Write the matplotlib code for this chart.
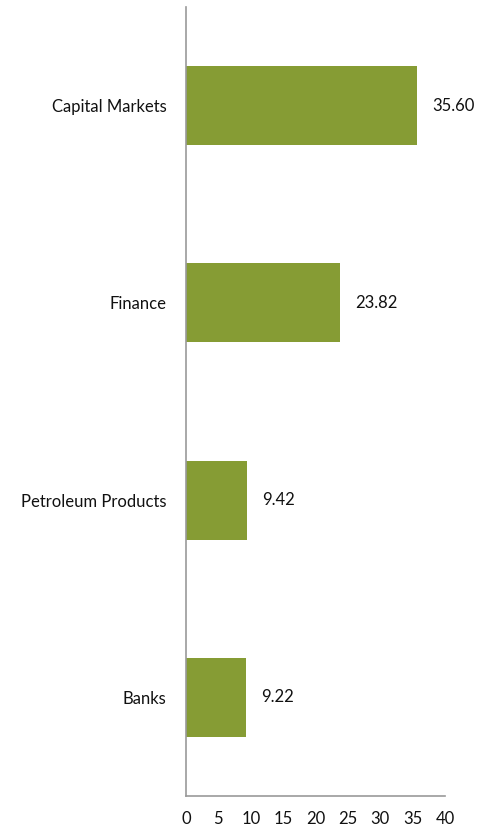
import matplotlib
matplotlib.use("Agg")
import matplotlib.pyplot as plt

categories = ["Banks", "Petroleum Products", "Finance", "Capital Markets"]
values = [9.22, 9.42, 23.82, 35.60]
x_ticks = [0, 5, 10, 15, 20, 25, 30, 35, 40]

plt.rcParams["font.family"] = ["Lato", "DejaVu Sans"]

fig = plt.figure(figsize=(4.89, 8.30), dpi=100)
ax = fig.add_axes([186 / 489, 34 / 830, (445 - 186) / 489, (796 - 7) / 830])

ypos = range(len(categories))
ax.barh(ypos, values, height=0.4, color="#869C34")

for y, v in zip(ypos, values):
    ax.annotate(f"{v:.2f}", xy=(v, y), xytext=(11, 0), textcoords="offset points",
                va="center", ha="left", fontsize=12, color="#111111")

ax.set_xlim(0, 40)
ax.set_ylim(-0.5, 3.5)
ax.set_yticks(list(ypos))
ax.set_yticklabels(categories, fontsize=12, color="#111111")
ax.set_xticks(x_ticks)
ax.set_xticklabels([str(t) for t in x_ticks], fontsize=12, color="#111111")
ax.tick_params(axis="y", length=0, pad=14)
ax.tick_params(axis="x", length=0, pad=11)

for side in ("top", "right"):
    ax.spines[side].set_visible(False)
for side in ("left", "bottom"):
    ax.spines[side].set_color("#999999")
    ax.spines[side].set_linewidth(1.2)

fig.savefig("out.png", dpi=100)
